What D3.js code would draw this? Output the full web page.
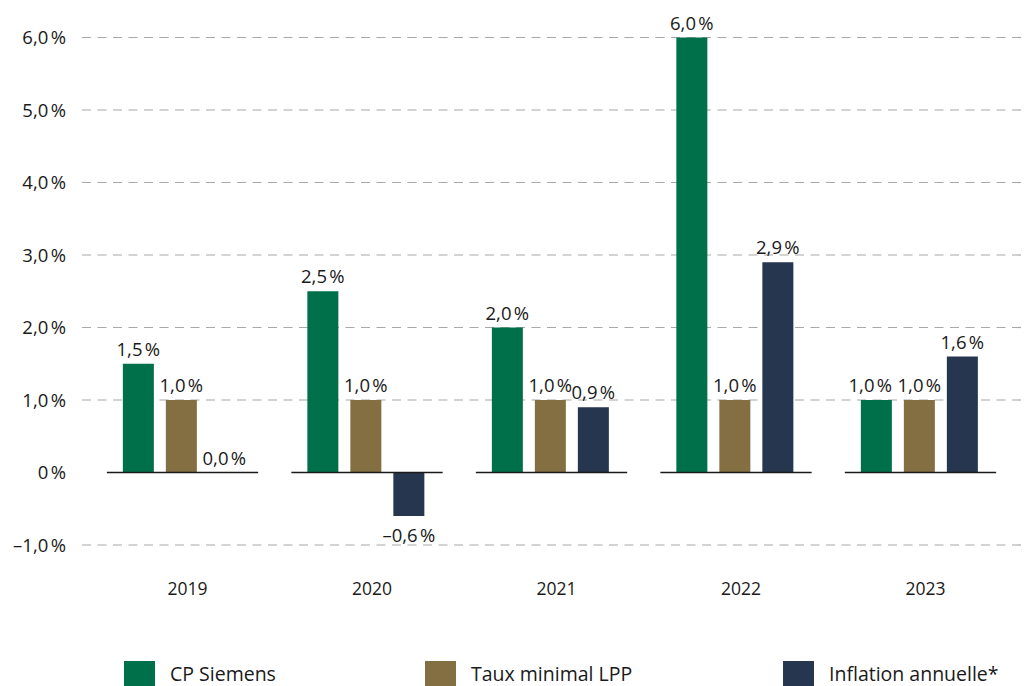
<!DOCTYPE html>
<html>
<head>
<meta charset="utf-8">
<script src="https://cdn.jsdelivr.net/npm/d3@7"></script>
<style>
  body { margin: 0; background: #fff; }
  svg { display: block; font-family: "Open Sans", "Noto Sans", sans-serif; }
</style>
</head>
<body>
<div id="chart"></div>
<script>
const years = ['2019', '2020', '2021', '2022', '2023'];
const seriesNames = ['CP Siemens', 'Taux minimal LPP', 'Inflation annuelle*'];
const cpSiemens = [1.5, 2.5, 2.0, 6.0, 1.0];
const tauxLpp = [1.0, 1.0, 1.0, 1.0, 1.0];
const inflation = [0.0, -0.6, 0.9, 2.9, 1.6];
const yTicks = [-1, 0, 1, 2, 3, 4, 5, 6];
const colors = ['#00704a', '#846f42', '#26364e'];

const W = 1026, H = 686;
const svg = d3.select('#chart').append('svg')
  .attr('width', W).attr('height', H);

const fmt = v => {
  const s = v === 0 ? '0' : Math.abs(v).toFixed(1).replace('.', ',');
  return (v < 0 ? '\u2013' : '') + s + '\u202F%';
};
const fmtVal = v => (v < 0 ? '\u2013' : '') + Math.abs(v).toFixed(1).replace('.', ',') + '\u202F%';

const y = d3.scaleLinear().domain([-1, 6]).range([545, 37.5]);

const x0 = d3.scaleBand()
  .domain(years)
  .range([90.25, 1012.75])
  .paddingInner(0.18)
  .paddingOuter(0.09);

const x1 = d3.scaleBand()
  .domain(seriesNames)
  .range([16, 133])
  .paddingInner(0.279);

// grid lines (dashed), not at zero
svg.append('g')
  .selectAll('line')
  .data(yTicks.filter(d => d !== 0))
  .enter()
  .append('line')
  .attr('x1', 82).attr('x2', 1022)
  .attr('y1', d => y(d)).attr('y2', d => y(d))
  .attr('stroke', '#a8a8a4')
  .attr('stroke-width', 1.2)
  .attr('stroke-dasharray', '9,6.5');

// y axis labels
svg.append('g')
  .selectAll('text')
  .data(yTicks)
  .enter()
  .append('text')
  .attr('x', 66)
  .attr('y', d => y(d) + 6.5)
  .attr('text-anchor', 'end')
  .style('font-size', '18.5px')
  .style('fill', '#1a1a1a')
  .text(fmt);

const rows = years.map((yr, i) => ({
  year: yr,
  values: [cpSiemens[i], tauxLpp[i], inflation[i]]
}));

const groups = svg.selectAll('.grp')
  .data(rows)
  .enter()
  .append('g')
  .attr('class', 'grp')
  .attr('transform', d => `translate(${x0(d.year)},0)`);

groups.selectAll('rect')
  .data(d => d.values.map((v, k) => ({ v, k })))
  .enter()
  .append('rect')
  .attr('x', d => x1(seriesNames[d.k]))
  .attr('y', d => y(Math.max(0, d.v)))
  .attr('width', x1.bandwidth())
  .attr('height', d => Math.abs(y(d.v) - y(0)))
  .attr('fill', d => colors[d.k]);

// zero line segment per group
groups.append('line')
  .attr('x1', 0).attr('x2', x0.bandwidth())
  .attr('y1', y(0)).attr('y2', y(0))
  .attr('stroke', '#1a1a1a')
  .attr('stroke-width', 1.5);

// value labels; nudge the first label left when it sits level with its neighbour
groups.selectAll('.val')
  .data(d => d.values.map((v, k) => ({ v, k, same: k === 0 && Math.abs(d.values[0] - d.values[1]) < 0.3 })))
  .enter()
  .append('text')
  .attr('class', 'val')
  .attr('x', d => x1(seriesNames[d.k]) + x1.bandwidth() / 2 - (d.same ? 6 : 0))
  .attr('y', d => d.v < 0 ? y(d.v) + 26 : y(d.v) - 8)
  .attr('text-anchor', 'middle')
  .style('font-size', '18.5px')
  .style('fill', '#1a1a1a')
  .text(d => fmtVal(d.v));

// year labels
groups.append('text')
  .attr('x', x0.bandwidth() / 2 + 5)
  .attr('y', 595)
  .attr('text-anchor', 'middle')
  .style('font-size', '17.5px')
  .style('fill', '#1a1a1a')
  .text(d => d.year);

// legend
const legendX = [124, 425, 783];
const legend = svg.selectAll('.leg')
  .data(seriesNames)
  .enter()
  .append('g')
  .attr('class', 'leg')
  .attr('transform', (d, i) => `translate(${legendX[i]},661)`);

legend.append('rect')
  .attr('width', 31).attr('height', 25)
  .attr('fill', (d, i) => colors[i]);

legend.append('text')
  .attr('x', 46)
  .attr('y', 20)
  .style('font-size', '19.5px')
  .style('fill', '#1a1a1a')
  .text(d => d);
</script>
</body>
</html>
